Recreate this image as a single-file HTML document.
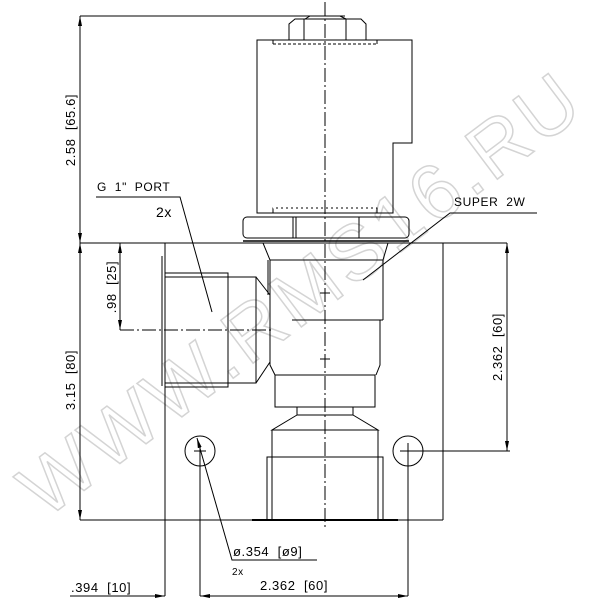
<!DOCTYPE html>
<html><head><style>html,body{margin:0;padding:0;background:#fff}svg{display:block}text{white-space:pre}</style></head>
<body>
<svg width="600" height="600" viewBox="0 0 600 600" xmlns="http://www.w3.org/2000/svg" font-family="Liberation Sans, sans-serif">
<defs>
<marker id="a" viewBox="0 0 10 4" refX="10" refY="2" markerWidth="10" markerHeight="4" orient="auto-start-reverse" markerUnits="userSpaceOnUse"><path d="M0,0 L10,2 L0,4z" fill="#000"/></marker>
</defs>
<text x="0" y="0" transform="translate(45,520) rotate(-37)" font-size="78" fill="none" stroke="#d4d4d4" stroke-width="1.5" letter-spacing="4">WWW.RMS16.RU</text>
<g stroke="#000" stroke-width="1" fill="none">
<line x1="80" y1="16" x2="345" y2="16"/>
<line x1="80" y1="16" x2="80" y2="243" marker-start="url(#a)" marker-end="url(#a)"/>
<line x1="80" y1="243" x2="80" y2="520" marker-start="url(#a)" marker-end="url(#a)"/>
<line x1="80" y1="243" x2="507" y2="243"/>
<line x1="80" y1="520" x2="443" y2="520"/>
<line x1="443" y1="243" x2="443" y2="520"/>
<line x1="165" y1="243" x2="165" y2="596"/>
<line x1="162" y1="256" x2="162" y2="386"/>
<line x1="120" y1="243" x2="120" y2="330" marker-start="url(#a)" marker-end="url(#a)"/>
<line x1="120" y1="330" x2="272" y2="330" stroke-dasharray="14,3,2,3"/>
<path d="M165,273 H228 V387 H165"/>
<path d="M165,277 H256 V383 H165"/>
<path d="M256,277 L270,295 V362 L256,383"/>
<path d="M289,40 V24 L295,19 H361 L366,24 V40"/>
<path d="M305,19 L310,16 H340 L346,19"/>
<line x1="304" y1="19" x2="304" y2="40"/>
<line x1="346" y1="19" x2="346" y2="40"/>
<path d="M257,213 V40 H412 V143 H393 V213 Z"/>
<path d="M273,44 H377" stroke-dasharray="3,2"/>
<path d="M273,40 V44 M377,40 V44"/>
<path d="M273,213 V208 H377 V213"/>
<path d="M273,208 H377" stroke-dasharray="3,2" stroke="#fff"/>
<rect x="243" y="217" width="166" height="21" rx="4"/>
<line x1="293" y1="217" x2="293" y2="238"/>
<line x1="296" y1="217" x2="296" y2="238"/>
<line x1="359" y1="217" x2="359" y2="238"/>
<line x1="243" y1="241" x2="409" y2="241" stroke-width="1.5"/>
<path d="M263,243 L270,260 V365 L275,375"/>
<path d="M268,260 V295"/>
<path d="M388,243 L383,260"/>
<path d="M270,260 H383 V320"/>
<line x1="292" y1="320" x2="383" y2="320"/>
<path d="M380,320 V365 L376,375"/>
<rect x="275" y="375" width="100" height="32"/>
<rect x="297" y="407" width="56" height="8"/>
<path d="M297,415 L272,430 H378 L353,415"/>
<path d="M272,430 V520 M378,430 V520"/>
<path d="M267,520 V457 H383 V520"/>
<line x1="252" y1="520" x2="398" y2="520" stroke-width="2"/>
<line x1="325" y1="2" x2="325" y2="530" stroke-dasharray="14,3,2,3"/>
<line x1="320" y1="293" x2="330" y2="293"/><line x1="320" y1="359" x2="330" y2="359"/>
<circle cx="200" cy="451" r="15"/>
<circle cx="408" cy="451" r="15"/>
<line x1="194" y1="451" x2="206" y2="451"/>
<line x1="200" y1="445" x2="200" y2="596"/>
<line x1="400" y1="451" x2="510" y2="451"/>
<line x1="408" y1="443" x2="408" y2="596"/>
<line x1="507" y1="243" x2="507" y2="451" marker-start="url(#a)" marker-end="url(#a)"/>
<line x1="70" y1="596" x2="165" y2="596"/>
<line x1="140" y1="596" x2="165" y2="596" marker-end="url(#a)"/>
<line x1="225" y1="596" x2="200" y2="596" marker-end="url(#a)"/>
<line x1="200" y1="596" x2="408" y2="596" marker-end="url(#a)"/>
<path d="M96,197 H180 L212,312"/>
<path d="M537,213 H450 L363,280"/>
<path d="M317,560 H232 L197,438" marker-end="url(#a)"/>
</g>
<g font-size="13" fill="#000" letter-spacing="0.6">
<text transform="translate(75,130) rotate(-90)" text-anchor="middle">2.58  [65.6]</text>
<text transform="translate(75,380) rotate(-90)" text-anchor="middle">3.15  [80]</text>
<text transform="translate(116,287) rotate(-90)" text-anchor="middle">.98  [25]</text>
<text transform="translate(502,347) rotate(-90)" text-anchor="middle">2.362  [60]</text>
<text x="97" y="191" font-size="12">G  1"  PORT</text>
<text x="156" y="217" font-size="14">2x</text>
<text x="454" y="206" font-size="12">SUPER  2W</text>
<text x="233" y="556">ø.354  [ø9]</text>
<text x="232" y="575" font-size="10">2x</text>
<text x="260" y="590">2.362  [60]</text>
<text x="71" y="592">.394  [10]</text>
</g>
</svg>
</body></html>
